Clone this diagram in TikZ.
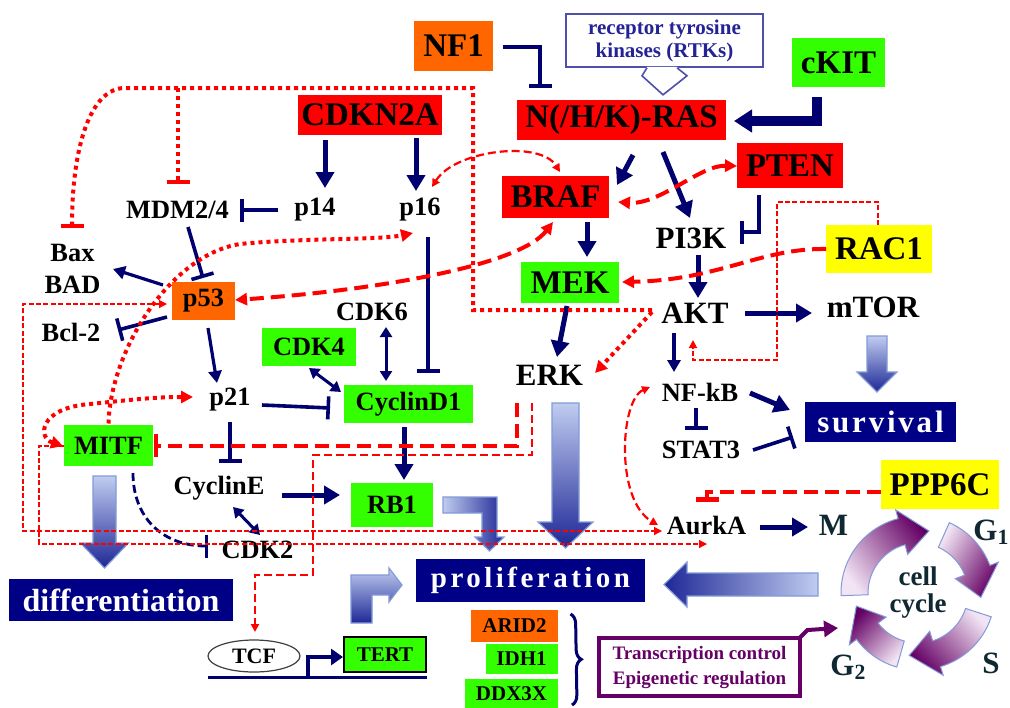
\documentclass[tikz,border=0pt]{standalone}
\usepackage{fontspec}
\setmainfont{Liberation Serif}
\usetikzlibrary{arrows.meta,calc,shapes.geometric,decorations.pathreplacing}
\definecolor{cNavy}{RGB}{0,0,110}
\definecolor{cBoxNavy}{RGB}{0,0,135}
\definecolor{cRed}{RGB}{255,0,0}
\definecolor{cGreen}{RGB}{51,255,0}
\definecolor{cOrange}{RGB}{255,102,0}
\definecolor{cYellow}{RGB}{255,255,0}
\definecolor{cPurple}{RGB}{102,0,102}
\definecolor{cRtk}{RGB}{35,35,150}
\definecolor{cSlate}{RGB}{15,40,50}
\definecolor{blkL}{RGB}{192,204,240}
\definecolor{blkD}{RGB}{30,40,150}
\definecolor{blkE}{RGB}{130,155,215}
\definecolor{cycL}{RGB}{242,228,244}
\definecolor{cycD}{RGB}{100,0,100}
\newcommand{\blkdown}[6]{\shade[blkarr, top color=blkL, bottom color=blkD] (#1-#4,#2) -- (#1+#4,#2) -- (#1+#4,#3-#6) -- (#1+#5,#3-#6) -- (#1,#3) -- (#1-#5,#3-#6) -- (#1-#4,#3-#6) -- cycle;}
\newcommand{\cycarrow}[4]{\shade[cycarr, shading angle=#4] (#1:77) arc[start angle=#1, end angle=#2, radius=77] -- (#2:86) -- (#3:63) -- (#2:40) -- (#2:50) arc[start angle=#2, end angle=#1, radius=50] -- cycle;}

\begin{document}
\begin{tikzpicture}[x=0.5pt,y=-0.5pt]
    \tikzset{lbl/.style={inner sep=1pt, font=\fontsize{13.2}{16}\selectfont\bfseries},
      lg/.style={inner sep=1pt, font=\fontsize{15.5}{17}\selectfont\bfseries},
      box/.style={inner sep=0pt, font=\fontsize{16.5}{18}\selectfont\bfseries},
      mbox/.style={inner sep=0pt, font=\fontsize{13.2}{15}\selectfont\bfseries},
      sbox/.style={inner sep=0pt, font=\fontsize{10.5}{12}\selectfont\bfseries},
      wbox/.style={inner sep=0pt, fill=cBoxNavy, text=white},
      blkarr/.style={draw=blkE, line width=0.6pt},
      cycarr/.style={draw=blkE, line width=0.5pt, left color=cycL, right color=cycD},
      act/.style={draw=cNavy, line width=1.6pt, -{Triangle[length=6pt,width=6.5pt]}},
      actb/.style={draw=cNavy, line width=2.5pt, -{Triangle[length=8pt,width=9pt]}},
      dbl/.style={draw=cNavy, line width=1.5pt, {Triangle[length=5pt,width=6pt]}-{Triangle[length=5pt,width=6pt]}},
      inh/.style={draw=cNavy, line width=1.8pt, -{Bar[width=11.5pt]}},
      ra/.tip={Triangle[length=6pt,width=6pt]},
      rs/.tip={Triangle[length=4pt,width=4pt]},
      rdsh/.style={draw=cRed, line width=2pt, dash pattern=on 7pt off 3.5pt},
      rmed/.style={draw=cRed, line width=1.1pt, dash pattern=on 4pt off 2pt},
      rthin/.style={draw=cRed, line width=0.6pt, dash pattern=on 2.5pt off 1.2pt},
      rdot/.style={draw=cRed, line width=2pt, dash pattern=on 2pt off 2pt}}
\useasboundingbox (0,0) rectangle (1010,707);
\fill[white] (0,0) rectangle (1010,707);

\node[box, fill=cOrange, minimum width=39.5pt, minimum height=25pt] (NF1) at (453.5,46) {NF1};
\node[draw=cRtk!80, line width=0.8pt, fill=white, text=cRtk, align=center, inner sep=0pt, minimum width=98.5pt, minimum height=26.5pt, font=\fontsize{10.5}{11.5}\selectfont\bfseries] (RTK) at (664.5,40.5) {receptor tyrosine\\kinases (RTKs)};
\node[box, fill=cGreen, minimum width=46.5pt, minimum height=24.5pt] (cKIT) at (838.5,62.5) {cKIT};
\node[box, fill=cRed, minimum width=104.5pt, minimum height=20pt] (RAS) at (621.5,120) {N(/H/K)-RAS};
\node[box, fill=cRed, minimum width=72pt, minimum height=20pt] (CDKN2A) at (370,115) {CDKN2A};
\node[box, fill=cRed, minimum width=53pt, minimum height=22.5pt] (PTEN) at (790,165.5) {PTEN};
\node[box, fill=cRed, minimum width=53.5pt, minimum height=21pt] (BRAF) at (555.5,197) {BRAF};
\node[box, fill=cYellow, minimum width=53pt, minimum height=24pt] (RAC1) at (879,249) {RAC1};
\node[box, fill=cGreen, minimum width=49pt, minimum height=20.5pt] (MEK) at (570,282.5) {MEK};
\node[mbox, fill=cOrange, minimum width=31.5pt, minimum height=19pt] (p53) at (203.5,301) {p53};
\node[mbox, fill=cGreen, minimum width=47pt, minimum height=19pt] (CDK4) at (309,347) {CDK4};
\node[mbox, fill=cGreen, minimum width=64.5pt, minimum height=19pt] (CycD1) at (408.5,404) {CyclinD1};
\node[mbox, fill=cGreen, minimum width=44.5pt, minimum height=20.5pt] (MITF) at (108.5,445.5) {MITF};
\node[box, fill=cYellow, minimum width=59pt, minimum height=24.5pt] (PPP6C) at (940,484.5) {PPP6C};
\node[mbox, fill=cGreen, minimum width=41pt, minimum height=22pt] (RB1) at (392,505) {RB1};
\node[wbox, minimum width=75.5pt, minimum height=20pt, font=\fontsize{15.5}{17}\selectfont\bfseries\addfontfeature{LetterSpace=9}] (surv) at (880.5,422) {survival};
\node[wbox, minimum width=114.5pt, minimum height=21.5pt, font=\fontsize{14.5}{16}\selectfont\bfseries\addfontfeature{LetterSpace=12}] (prolif) at (530.5,580.5) {proliferation};
\node[wbox, minimum width=112pt, minimum height=21pt, font=\fontsize{16}{18}\selectfont\bfseries] (diff) at (121,600) {differentiation};
\node[ellipse, draw=black!75, fill=white, line width=0.6pt, inner sep=0pt, minimum width=46pt, minimum height=16pt, font=\fontsize{11}{12}\selectfont\bfseries] (TCF) at (254,656) {TCF};
\node[sbox, fill=cGreen, draw=black, line width=0.8pt, minimum width=41pt, minimum height=17.5pt] (TERT) at (385,654.5) {TERT};
\node[sbox, fill=cOrange, minimum width=43.5pt, minimum height=16pt] (ARID2) at (514.5,626) {ARID2};
\node[sbox, fill=cGreen, minimum width=36pt, minimum height=15pt] (IDH1) at (521.5,659) {IDH1};
\node[sbox, fill=cGreen, minimum width=46.5pt, minimum height=15pt] (DDX3X) at (511.5,694) {DDX3X};
\node[draw=cPurple, line width=2pt, fill=white, text=cPurple, align=center, inner sep=0pt, minimum width=100.5pt, minimum height=29pt, font=\fontsize{9.5}{12.5}\selectfont\bfseries] (TCbox) at (699.5,667) {Transcription control\\Epigenetic regulation};

\node[lbl] (MDM) at (177.5,210) {MDM2/4};
\node[lbl] (p14) at (315,210) {p14};
\node[lbl] (p16) at (420,210) {p16};
\node[lbl, align=center] (Bax) at (72.5,269) {Bax\\BAD};
\node[lbl] (Bcl) at (71,332) {Bcl-2};
\node[lbl] (CDK6) at (372,312) {CDK6};
\node[lg] (PI3K) at (691,238) {PI3K};
\node[lg] (AKT) at (695,313) {AKT};
\node[lg] (mTOR) at (873,307) {mTOR};
\node[lg] (ERK) at (549.5,375) {ERK};
\node[lbl] (p21) at (230,400) {p21};
\node[lbl] (NFkB) at (700,392) {NF-kB};
\node[lbl] (STAT3) at (701,450) {STAT3};
\node[lbl] (CycE) at (219,488) {CyclinE};
\node[lbl] (CDK2) at (257.5,550) {CDK2};
\node[lbl] (AurkA) at (706.5,525) {AurkA};
\node[lg, text=cSlate] (M) at (833.5,525) {M};
\node[lg, text=cSlate, anchor=west] (G1) at (971,532) {G\textsubscript{1}};
\node[lg, text=cSlate, anchor=west] (G2) at (828,667) {G\textsubscript{2}};
\node[lg, text=cSlate] (S) at (991,663) {S};
\node[align=center, inner sep=1pt, text=cSlate, font=\fontsize{13.5}{13.5}\selectfont\bfseries] (cyc) at (918,593) {cell\\cycle};

% callout of the RTK box
\fill[white] ($(RTK.south)+(-17.5,-1)$) -- ++(-5,9) -- ++(21,19) -- ++(24,-19) -- ++(-10,-9) -- cycle;
\draw[cRtk!80, line width=0.8pt] ($(RTK.south)+(-17.5,0)$) -- ++(-5,8) -- ++(21,19) -- ++(24,-19) -- ++(-10,-8);

% big shaded arrows
\blkdown{877}{336}{392}{10}{20}{20}
\blkdown{565.5}{403}{548}{13.5}{27.5}{26}
\blkdown{104.5}{476}{568}{11.5}{24}{25}
\shade[blkarr, left color=blkL, right color=blkD] (443,497) -- (497,497) -- (497,537) -- (504,537) -- (489.5,551) -- (475,537) -- (482,537) -- (482,513) -- (443,513) -- cycle;
\shade[blkarr, top color=blkL, bottom color=blkD] (351,623) -- (351,575) -- (389,575) -- (389,568) -- (402,585) -- (389,602) -- (389,595) -- (372,595) -- (372,623) -- cycle;
\shade[blkarr, left color=blkD, right color=blkL] (818,573) -- (687,573) -- (687,562) -- (664,584.5) -- (687,607) -- (687,596) -- (818,596) -- cycle;
\begin{scope}[shift={(cyc.center)}, yscale=-1]
  \cycarrow{182}{105}{80}{127}
  \cycarrow{66}{21}{-4}{60}
  \cycarrow{-18}{-73}{-98}{-47}
  \cycarrow{-106}{-143}{-168}{227}
\end{scope}

% navy connectors
\draw[actb] ($(CDKN2A)+(-45,25)$) -- ($(p14)+(10,-22)$);
\draw[actb] ($(CDKN2A)+(46,23)$) -- ($(p16)+(-4,-19)$);
\draw[inh] ($(p14)+(-37,0)$) -- ($(MDM)+(62.5,0)$);
\draw[inh] ($(MDM)+(10.5,17)$) -- ($(p53)+(-0.5,-23)$);
\draw[inh] ($(p16)+(8,27)$) -- ($(CycD1)+(19.5,-31)$);
\draw[act] ($(p53)+(-40.5,-16)$) -- ($(Bax)+(40.5,0)$);
\draw[inh] ($(p53)+(-36.5,16)$) -- ($(Bcl)+(47,-2)$);
\draw[act] ($(p53)+(4.5,27)$) -- ($(p21)+(-13,-17)$);
\draw[inh] ($(p21)+(32,5)$) -- ($(CycD1)+(-78.5,4)$);
\draw[inh] ($(p21)+(0,22)$) -- ($(CycE)+(11,-25)$);
\draw[dbl] ($(CDK6)+(14,15)$) -- ($(CycD1)+(-22.5,-23)$);
\draw[dbl] ($(CDK4)+(0,21)$) -- ($(CycD1)+(-67.5,-12)$);
\draw[actb] ($(CycD1)+(-4.5,23)$) -- ($(RB1)+(12,-25)$);
\draw[actb] ($(CycE)+(63,7)$) -- ($(RB1)+(-52,-10)$);
\draw[dbl] ($(CycE)+(14,19)$) -- ($(CDK2)+(2.5,-15)$);
\draw[inh, line width=1.4pt, dash pattern=on 4pt off 2pt] ($(MITF)+(24.5,27.5)$) .. controls +(0,45) and +(-45,0) .. ($(CDK2)+(-49.5,-4)$);
\draw[inh] ($(NF1)+(49.5,1)$) -| ($(RAS)+(-81.5,-32)$);
\draw[cNavy, line width=5pt, -{Triangle[length=9pt,width=11pt]}] ($(cKIT)+(-21.5,34.5)$) |- ($(RAS)+(112.5,1)$);
\draw[actb] ($(RAS)+(11.5,35)$) -- ($(BRAF)+(61.5,-12)$);
\draw[actb] ($(RAS)+(41.5,32)$) -- ($(PI3K)+(-1,-20)$);
\draw[inh] ($(PTEN)+(-31,29.5)$) |- ($(PI3K)+(49,-6)$);
\draw[actb] ($(BRAF)+(31.5,25)$) -- ($(MEK)+(17,-25.5)$);
\draw[actb] ($(MEK)+(-3,23.5)$) -- ($(ERK)+(7.5,-18)$);
\draw[actb] ($(PI3K)+(7,17)$) -- ($(AKT)+(3,-15)$);
\draw[actb] ($(AKT)+(50,0)$) -- ($(mTOR)+(-61,6)$);
\draw[act] ($(AKT)+(-21,20)$) -- ($(NFkB)+(-26,-20)$);
\draw[actb] ($(NFkB)+(50,1)$) -- ($(surv)+(-90.5,-12)$);
\draw[inh] ($(NFkB)+(-4,16)$) -- ($(STAT3)+(-5,-20)$);
\draw[inh] ($(STAT3)+(52,0)$) -- ($(surv)+(-87.5,15)$);
\draw[actb] ($(AurkA)+(53.5,2)$) -- ($(M)+(-25.5,2)$);
\draw[cNavy, line width=1.5pt] ($(TCF)+(-46,21)$) -- ($(TERT)+(42,22.5)$);
\draw[cNavy, line width=2pt, -{Triangle[length=6pt,width=8pt]}] ($(TCF)+(54,21)$) |- ($(TERT)+(-42,2.5)$);
\draw[cNavy, line width=1.5pt, decorate, decoration={brace, amplitude=5pt}] ($(ARID2)+(56,-12)$) -- ($(DDX3X)+(60.5,11)$);
\draw[cPurple, line width=2pt, -{Triangle[length=7pt,width=8pt]}] ($(TCbox)+(99,-28)$) -- ++(9,-9) -- ($(cyc)+(-80,35)$);

% red connectors
\draw[rdot, -{Bar[width=11.5pt]}] ($(AKT)+(-43,-3)$) -- ++(-179,0) -- ++(0,-222) -- ++(-295,0) coordinate (jm) -- ++(-53,0) .. controls +(-35,0) and +(0,-80) .. ($(Bax)+(-0.5,-41)$);
\draw[rdot, -{Bar[width=11.5pt]}] (jm) -- ($(MDM)+(0.5,-26)$);
\draw[rdot, -ra] ($(AKT)+(-43,-1)$) -- ($(ERK)+(45.5,-2)$);
\draw[rdot, ra-ra] ($(MITF)+(-45.5,0.5)$) .. controls +(-25,-8) and +(-52,4) .. ($(p21)+(-140,4)$) .. controls +(40,-4) and +(-40,0) .. ($(p21)+(-37,-3)$);
\draw[rdot, -ra] ($(MITF)+(0,-22)$) .. controls +(2,-73) and +(-70,11) .. ($(p16)+(-180,34)$) .. controls +(60,-6) and +(-33,7) .. ($(p16)+(-7,23)$);
\draw[rmed, rs-rs] ($(p16)+(12,-23)$) .. controls +(23,-37) and +(-20,-32) .. ($(BRAF)+(4.5,-25)$);
\draw[rdsh, ra-ra] ($(BRAF)+(-2.5,25)$) .. controls +(-33,43) and +(145,-10) .. ($(p53)+(31.5,-1)$);
\draw[rdsh, ra-ra] ($(PTEN)+(-53,0.5)$) .. controls +(-37,-1) and +(42,3) .. ($(BRAF)+(62.5,5)$);
\draw[rdsh, -ra] ($(RAC1)+(-53,0)$) .. controls +(-66,-1) and +(98,-2) .. ($(MEK)+(52,-0.5)$);
\draw[rthin, line width=0.9pt, -rs] ($(RAC1)+(-1,-24)$) -- ++(0,-23) -- ++(-101,0) -- ++(0,158) -| ($(AKT)+(-2,27)$);
\draw[rdsh, -{Bar[width=11.5pt]}] ($(ERK)+(-32.5,28)$) |- ($(MITF)+(45.5,0)$);
\draw[rmed, -rs] ($(ERK)+(-17.5,28)$) -- ++(0,52) -- ++(-219,0) -- ++(0,120) -- ++(-58,0) -- ($(TCF)+(1,-24)$);
\draw[rmed, rs-rs] ($(NFkB)+(-50,-5)$) .. controls +(-30,13) and +(-43,-25) .. ($(AurkA)+(-48.5,0)$);
\draw[rdsh, line width=2.3pt, -{Bar[width=11.5pt]}] ($(PPP6C)+(-59,7.5)$) -| ($(AurkA)+(0.5,-23)$);
\draw[rthin, rs-rs] ($(p53)+(-36.5,3)$) -- ++(-144,0) -- ++(0,227) -- ($(AurkA)+(-44.5,6)$);
\draw[rthin, -rs] ($(MITF)+(-44.5,0.5)$) -- ++(-25,0) -- ++(0,98) -- ($(AurkA)+(0.5,19)$);
% \draw[rthin] (G2) -- (S);
\end{tikzpicture}
\end{document}
